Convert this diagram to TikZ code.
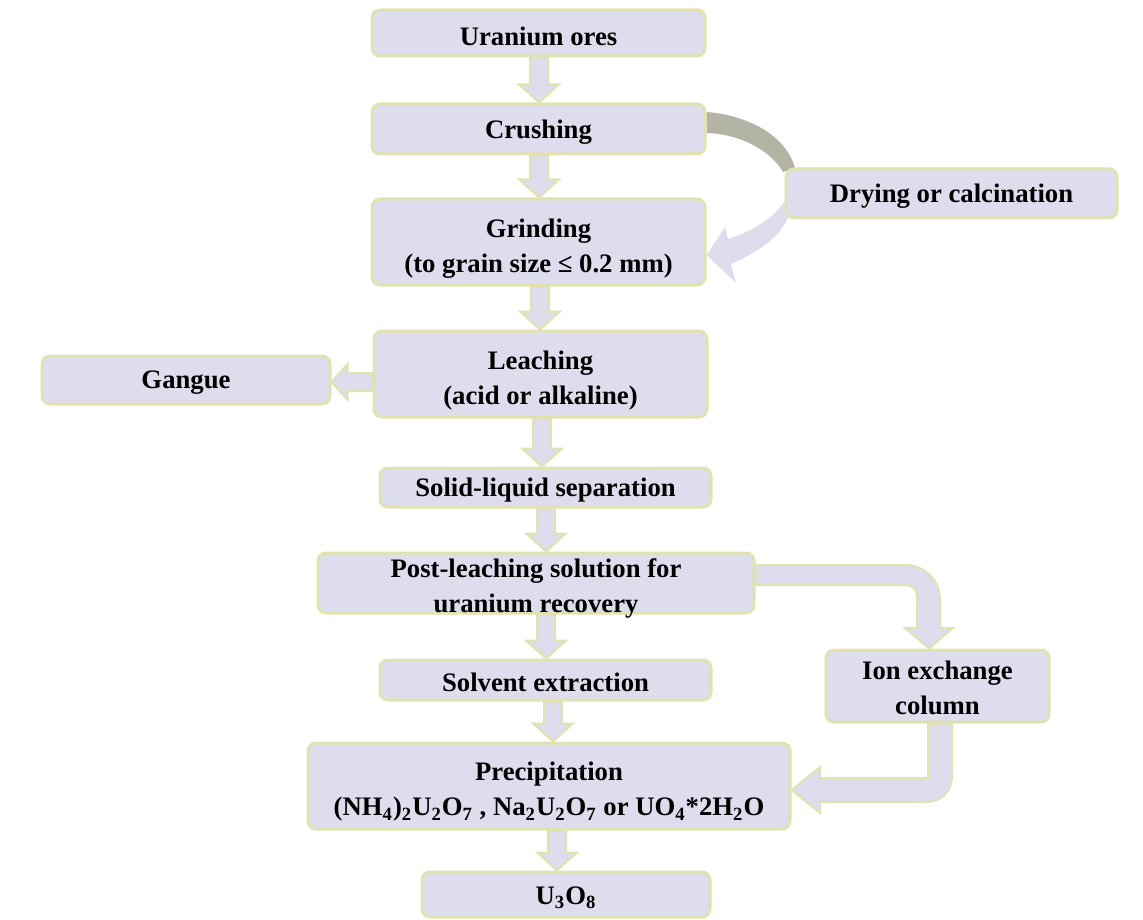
\documentclass[tikz,border=0pt]{standalone}
\usepackage{fontspec}
\setmainfont{Liberation Serif}
\usetikzlibrary{calc,backgrounds}
\definecolor{lav}{RGB}{221,221,237}
\definecolor{khaki}{RGB}{226,226,176}
\definecolor{grayband}{RGB}{180,180,165}
\tikzset{
  box/.style={draw=khaki, fill=lav, line width=1.5pt, rounded corners=4pt, inner sep=0pt},
  txt/.style={align=center, inner sep=0pt,
    font=\fontsize{13.35}{17.5}\selectfont\bfseries},
  blk/.style={draw=khaki, fill=lav, line width=1pt, line join=miter},
  band/.style={fill=lav},
}
\newcommand\vblk[3]{%
  \coordinate (vA) at (#2.south -| #1,0);
  \coordinate (vB) at (#3.north -| #1,0);
  \filldraw[blk] ($(vA)+(-9,0)$) -- ($(vA)+(9,0)$) -- ($(vB)+(9,-18)$)
    -- ($(vB)+(20,-18)$) -- (vB) -- ($(vB)+(-20,-18)$) -- ($(vB)+(-9,-18)$) -- cycle;}
\begin{document}
\begin{tikzpicture}[x=0.5pt,y=-0.5pt]
\useasboundingbox (0,0) rectangle (1143,919);
% boxes
\node[box, minimum width=166.5pt, minimum height=23pt] (ores) at (538.5,33) {};
\node[box, minimum width=166.5pt, minimum height=25pt] (crush) at (538.5,129) {};
\node[box, minimum width=166.5pt, minimum height=43pt] (grind) at (538.5,242) {};
\node[box, minimum width=165.5pt, minimum height=24.5pt] (dry) at (951.5,193.5) {};
\node[box, minimum width=166.5pt, minimum height=43pt] (leach) at (540.5,374) {};
\node[box, minimum width=144pt, minimum height=24pt] (gangue) at (186,380) {};
\node[box, minimum width=165.5pt, minimum height=19.5pt] (solid) at (545.5,487.5) {};
\node[box, minimum width=218pt, minimum height=30pt] (post) at (536,583) {};
\node[box, minimum width=165.5pt, minimum height=20pt] (solv) at (545.5,680) {};
\node[box, minimum width=111.5pt, minimum height=36pt] (ion) at (937.5,686) {};
\node[box, minimum width=241pt, minimum height=43pt] (precip) at (549,786) {};
\node[box, minimum width=144pt, minimum height=22.5pt] (u3o8) at (566,894.5) {};
% texts
\node[txt] (ores-t) at ($(ores)+(0,3)$) {Uranium ores};
\node[txt] (crush-t) at ($(crush)+(0,3)$) {Crushing};
\node[txt] (grind-t) at ($(grind)+(0,7)$) {Grinding\\(to grain size ≤ 0.2 mm)};
\node[txt] (dry-t) at ($(dry)+(0,3)$) {Drying or calcination};
\node[txt] (leach-t) at ($(leach)+(0,7)$) {Leaching\\(acid or alkaline)};
\node[txt] (gangue-t) at ($(gangue)+(0,3)$) {Gangue};
\node[txt] (solid-t) at ($(solid)+(0,3)$) {Solid-liquid separation};
\node[txt] (post-t) at ($(post)+(0,5)$) {Post-leaching solution for\\uranium recovery};
\node[txt] (solv-t) at ($(solv)+(0,2)$) {Solvent extraction};
\node[txt] (ion-t) at ($(ion)+(0,2)$) {Ion exchange\\column};
\node[txt] (precip-t) at ($(precip)+(0,6)$) {Precipitation\\(NH\textsubscript{4})\textsubscript{2}U\textsubscript{2}O\textsubscript{7} , Na\textsubscript{2}U\textsubscript{2}O\textsubscript{7} or UO\textsubscript{4}*2H\textsubscript{2}O};
\node[txt] (u3o8-t) at ($(u3o8)+(0,3)$) {U\textsubscript{3}O\textsubscript{8}};
% connectors
\begin{pgfonlayer}{background}
\vblk{539}{ores}{crush}
\vblk{539}{crush}{grind}
\vblk{540}{grind}{leach}
\vblk{542}{leach}{solid}
\vblk{546}{solid}{post}
\vblk{546}{post}{solv}
\vblk{553}{solv}{precip}
\vblk{557}{precip}{u3o8}
% leaching -> gangue
\coordinate (hA) at (leach.west |- 0,382);
\coordinate (hB) at (gangue.east |- 0,382);
\filldraw[blk] ($(hA)+(0,-9)$) -- ($(hB)+(16,-9)$) -- ($(hB)+(16,-18)$) -- (hB)
  -- ($(hB)+(16,18)$) -- ($(hB)+(16,9)$) -- ($(hA)+(0,9)$) -- cycle;
% post -> ion
\filldraw[blk] (post.east |- 0,565) -- (905,565) .. controls (925,565) and (940,580) .. (940,600)
  -- (940,628) -- (953,628) -- (ion.north -| 929,0) -- (905,628) -- (917,628) -- (917,597)
  .. controls (917,590.5) and (912.5,585) .. (906,585) -- (post.east |- 0,585) -- cycle;
% ion -> precipitation
\filldraw[blk] (ion.south -| 928,0) -- (ion.south -| 952,0) -- (952,776)
  .. controls (952,790.5) and (942.5,802) .. (926,802) -- (820,802) -- (820,813)
  -- (precip.east |- 0,790) -- (820,767) -- (820,778) -- (928,778) -- cycle;
% crushing -> drying (grey band)
\fill[grayband] (crush.east |- 0,112) .. controls (747,115) and (786,135) .. (795,168)
  -- (783,172) .. controls (770,150) and (740,134) .. (crush.east |- 0,133) -- cycle;
% drying -> grinding (curved arrow)
\fill[band] (dry.west |- 0,205) ++(8,0) .. controls (785,235) and (762,250) .. (731,264)
  -- (736,283) -- (grind.east |- 0,255) -- (725,227) -- (728,239)
  .. controls (755,230) and (774,218) .. (787,198) -- cycle;
\end{pgfonlayer}
\end{tikzpicture}
\end{document}
